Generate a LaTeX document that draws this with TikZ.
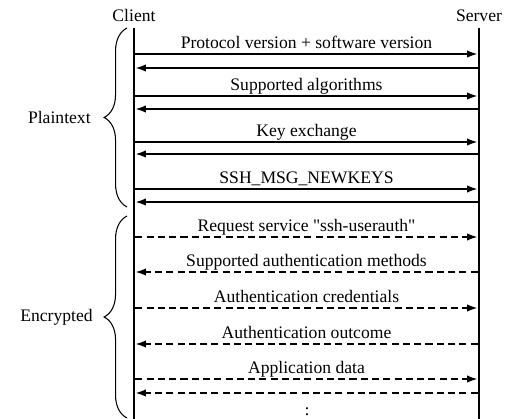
\documentclass[tikz,border=0pt]{standalone}
\usepackage{fontspec}
\setmainfont{Liberation Serif}[Ligatures=TeXOff]
\usetikzlibrary{arrows.meta, positioning, decorations.pathreplacing, calc}
\definecolor{seqInk}{HTML}{000000}
\tikzset{
  lifeline/.style={line width=1.7pt, seqInk},
  msgarrow/.style={-{Latex[length=6pt, width=4.2pt]}, line width=0.9pt, seqInk,
    shorten >=0.8pt, shorten <=0.8pt},
  msgdashed/.style={msgarrow, dash pattern=on 4pt off 2.4pt},
  msglabel/.style={anchor=base, inner sep=0pt, yshift=3.4pt,
    font=\fontsize{10}{12}\selectfont},
  partylabel/.style={anchor=base, inner sep=0pt, font=\fontsize{10}{12}\selectfont},
  sectlabel/.style={anchor=east, inner sep=0pt, font=\fontsize{10}{12}\selectfont},
  sectbrace/.style={decorate, decoration={brace, amplitude=13pt}, line width=0.6pt, seqInk}
}

\begin{document}
\begin{tikzpicture}[x=0.568pt, y=-0.568pt]
  \useasboundingbox (0,0) rectangle (507,419);
  \clip (0,0) rectangle (507,419);

  % parties and lifelines
  \node[partylabel] (client) at (134,22) {Client};
  \node[partylabel] (server) at (479,22) {Server};
  \coordinate (ctop) at (134,28);
  \coordinate (cbot) at (134,430);
  \coordinate (stop) at (479,28);
  \coordinate (sbot) at (479,430);
  \draw[lifeline] (ctop) -- (cbot);
  \draw[lifeline] (stop) -- (sbot);

  \foreach \n/\y in {1/54, 2/68, 3/96, 4/109, 5/142, 6/154, 7/189, 8/202,
                     9/237, 10/272, 11/308, 12/344, 13/379, 14/393} {
    \coordinate (c\n) at (134,\y);
    \coordinate (s\n) at (479,\y);
  }

  % plaintext part
  \draw[msgarrow] (c1) -- node[msglabel] (m1) {Protocol version + software version} (s1);
  \draw[msgarrow] (s2) -- (c2);
  \draw[msgarrow] (c3) -- node[msglabel] (m3) {Supported algorithms} (s3);
  \draw[msgarrow] (s4) -- (c4);
  \draw[msgarrow] (c5) -- node[msglabel] (m5) {Key exchange} (s5);
  \draw[msgarrow] (s6) -- (c6);
  \draw[msgarrow] (c7) -- node[msglabel] (m7) {SSH\_MSG\_NEWKEYS} (s7);
  \draw[msgarrow] (s8) -- (c8);

  % encrypted part
  \draw[msgdashed] (c9) -- node[msglabel] (m9) {Request service "ssh-userauth"} (s9);
  \draw[msgdashed] (s10) -- node[msglabel] (m10) {Supported authentication methods} (c10);
  \draw[msgdashed] (c11) -- node[msglabel] (m11) {Authentication credentials} (s11);
  \draw[msgdashed] (s12) -- node[msglabel] (m12) {Authentication outcome} (c12);
  \draw[msgdashed] (c13) -- node[msglabel] (m13) {Application data} (s13);
  \draw[msgdashed] (s14) -- (c14);
  \node[inner sep=0pt, anchor=base] (more) at (307,421)
    {\vbox{\baselineskip=3.2pt\lineskiplimit=0pt\hbox{.}\hbox{.}\hbox{.}}};

  % sections
  \coordinate (ptop) at (127,28);
  \coordinate (pbot) at (127,207);
  \coordinate (etop) at (127,216);
  \coordinate (ebot) at (127,418);
  \draw[sectbrace] (pbot) -- (ptop);
  \draw[sectbrace] (ebot) -- (etop);
  \node[sectlabel] (plain) at (91,117) {Plaintext};
  \node[sectlabel] (enc) at (93,317) {Encrypted};
\end{tikzpicture}
\end{document}
